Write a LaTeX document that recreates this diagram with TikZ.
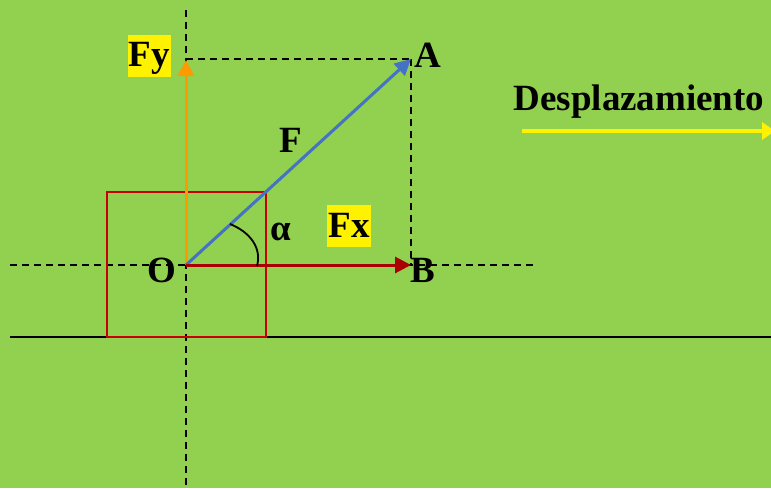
\documentclass[tikz,border=0pt]{standalone}
\usepackage{fontspec}
\setmainfont{Liberation Serif}
\usetikzlibrary{arrows.meta}
\definecolor{bggreen}{RGB}{146,208,80}
\definecolor{rectred}{RGB}{200,0,0}
\definecolor{fxred}{RGB}{170,0,0}
\definecolor{forange}{RGB}{255,153,0}
\definecolor{fblue}{RGB}{68,114,196}
\tikzset{
  guide/.style={draw=black, line width=2pt, dash pattern=on 7pt off 5pt},
  vec/.style={line width=3pt, -{Triangle[length=16pt,width=16pt]}},
  lbl/.style={font=\fontsize{37}{40}\selectfont\bfseries, inner sep=0pt, anchor=base},
  hl/.style={font=\fontsize{37}{40}\selectfont\bfseries, fill=yellow, inner xsep=1pt, inner ysep=0pt, text height=32pt, text depth=10pt}
}
\begin{document}
\begin{tikzpicture}[x=1pt,y=-1pt]
\fill[bggreen] (0,0) rectangle (771,488);
\useasboundingbox (0,0) rectangle (771,488);
\clip (0,0) rectangle (771,488);
% coordinates
\coordinate (O) at (186,265);
\coordinate (A) at (411,59);
\coordinate (B) at (411,265);
\coordinate (Ytop) at (186,59);
\coordinate (Fyend) at (186,60);
\coordinate (vtop) at (186,10);
\coordinate (vbot) at (186,488);
\coordinate (hleft) at (10,265);
\coordinate (hright) at (537,265);
\coordinate (gl) at (10,337);
\coordinate (gr) at (771,337);
\coordinate (d1) at (522,131);
\coordinate (d2) at (775,131);
\coordinate (r1) at (107,192);
\coordinate (r2) at (266,337);
\coordinate (a1) at (230,224);
\coordinate (a2) at (257,266);
% guides
\draw[guide] (vtop) -- (vbot);
\draw[guide] (hleft) -- (hright);
\draw[guide] (Ytop) -- (A);
\draw[guide] (A) -- (B);
% ground
\draw[black, line width=2.2pt] (gl) -- (gr);
% block
\draw[rectred, line width=2.5pt] (r1) rectangle (r2);
% vectors
\draw[vec, forange] (O) -- (Fyend);
\draw[vec, fblue] (O) -- (A);
\draw[vec, fxred] (O) -- (B);
% angle
\draw[black, line width=1.8pt] (a1) .. controls (250,232) and (262,248) .. (a2);
% displacement
\draw[yellow, line width=3.5pt, -{Triangle[length=13pt,width=17pt]}] (d1) -- (d2);
% labels
\node[hl] (fy) at (149.5,55.5) {Fy};
\node[hl] (fx) at (349,226) {Fx};
\node[lbl] (la) at (428,67) {A};
\node[lbl] (lb) at (422.5,282) {B};
\node[lbl] (lo) at (162,282) {O};
\node[lbl] (lf) at (291,152) {F};
\node[lbl] (lal) at (281,240) {α};
\node[lbl] (ld) at (639,110) {Desplazamiento};
\end{tikzpicture}
\end{document}
